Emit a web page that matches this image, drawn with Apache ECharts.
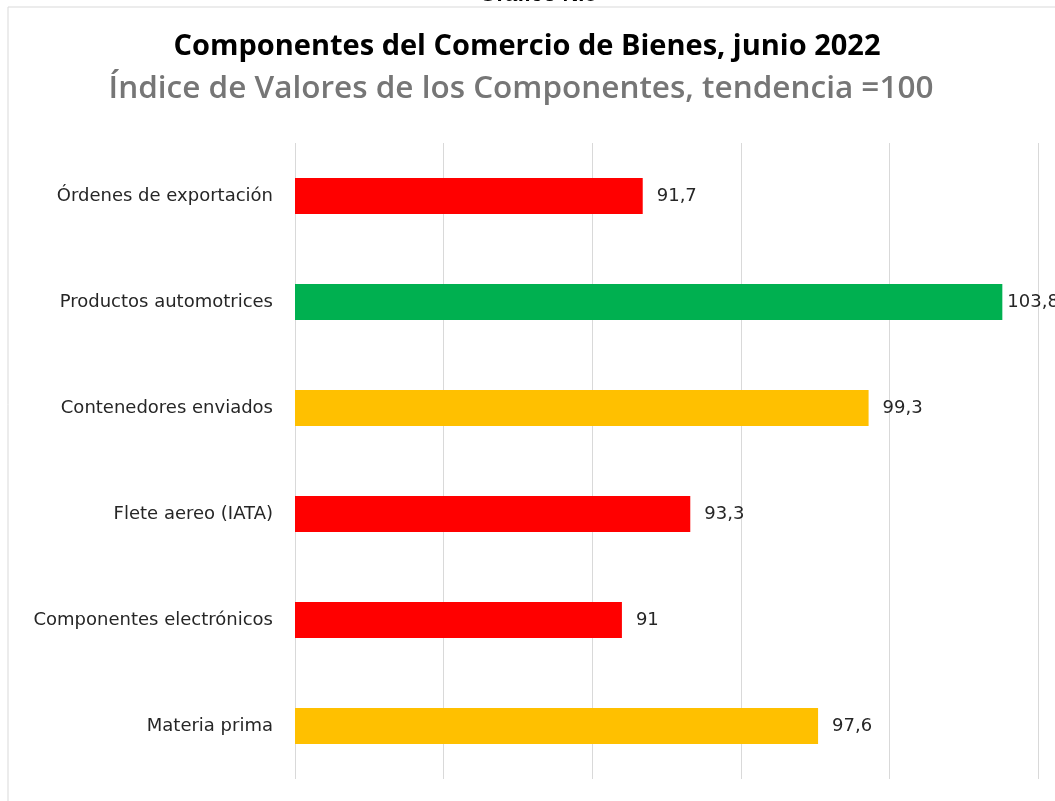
<!DOCTYPE html>
<html><head><meta charset="utf-8">
<script src="https://cdn.jsdelivr.net/npm/echarts@6/dist/echarts.min.js"></script>
<style>html,body{margin:0;padding:0;background:#fff}#c{width:1055px;height:801px}</style>
</head><body><div id="c"></div>
<script>
const categories = ["Órdenes de exportación","Productos automotrices","Contenedores enviados","Flete aereo (IATA)","Componentes electrónicos","Materia prima"];
const values = [91.7, 103.8, 99.3, 93.3, 91, 97.6];
const barColors = ["#FF0000","#00B050","#FFC000","#FF0000","#FF0000","#FFC000"];
const axisMin = 80, axisMax = 105, axisStep = 5;

const labelFont = '"DejaVu Sans", "Open Sans"';
const chart = echarts.init(document.getElementById('c'));
chart.setOption({
  backgroundColor: '#fff',
  animation: false,
  graphic: [
    {type:'rect', shape:{x:8,y:7,width:1100,height:850}, style:{fill:'none',stroke:'#d9d9d9',lineWidth:1}, z:-1},
    {type:'text', x:538, y:6, style:{text:'Gráfico N.8', font:'bold 22px "Liberation Sans", Arial', fill:'#000', textAlign:'center', textVerticalAlign:'bottom'}},
    {type:'text', x:527, y:47, style:{text:'Componentes del Comercio de Bienes, junio 2022', font:'bold 29px "Open Sans", "Noto Sans"', fill:'#000', textAlign:'center', textVerticalAlign:'middle'}},
    {type:'text', x:521, y:89, style:{text:'Índice de Valores de los Componentes, tendencia =100', font:'600 31.5px "Open Sans", "Noto Sans"', fill:'#767676', textAlign:'center', textVerticalAlign:'middle'}}
  ],
  grid: {left:295, right:17, top:143, bottom:22, containLabel:false},
  xAxis: {
    type:'value', min:axisMin, max:axisMax, interval:axisStep,
    axisLabel:{show:false}, axisTick:{show:false}, axisLine:{show:false},
    splitLine:{show:true, lineStyle:{color:'#d9d9d9', width:1}}
  },
  yAxis: {
    type:'category', data:categories, inverse:true,
    axisLine:{show:false}, axisTick:{show:false},
    axisLabel:{margin:22, fontSize:18, color:'#262626', fontFamily:labelFont}
  },
  series: [{
    type:'bar', barWidth:36,
    data: values.map((v,i)=>({value:v, itemStyle:{color:barColors[i]}, label: v > 103 ? {distance:5} : undefined})),
    label:{show:true, position:'right', distance:14, fontSize:18, color:'#262626', fontFamily:labelFont,
      formatter: p => String(p.value).replace('.', ',')}
  }]
});
</script></body></html>
